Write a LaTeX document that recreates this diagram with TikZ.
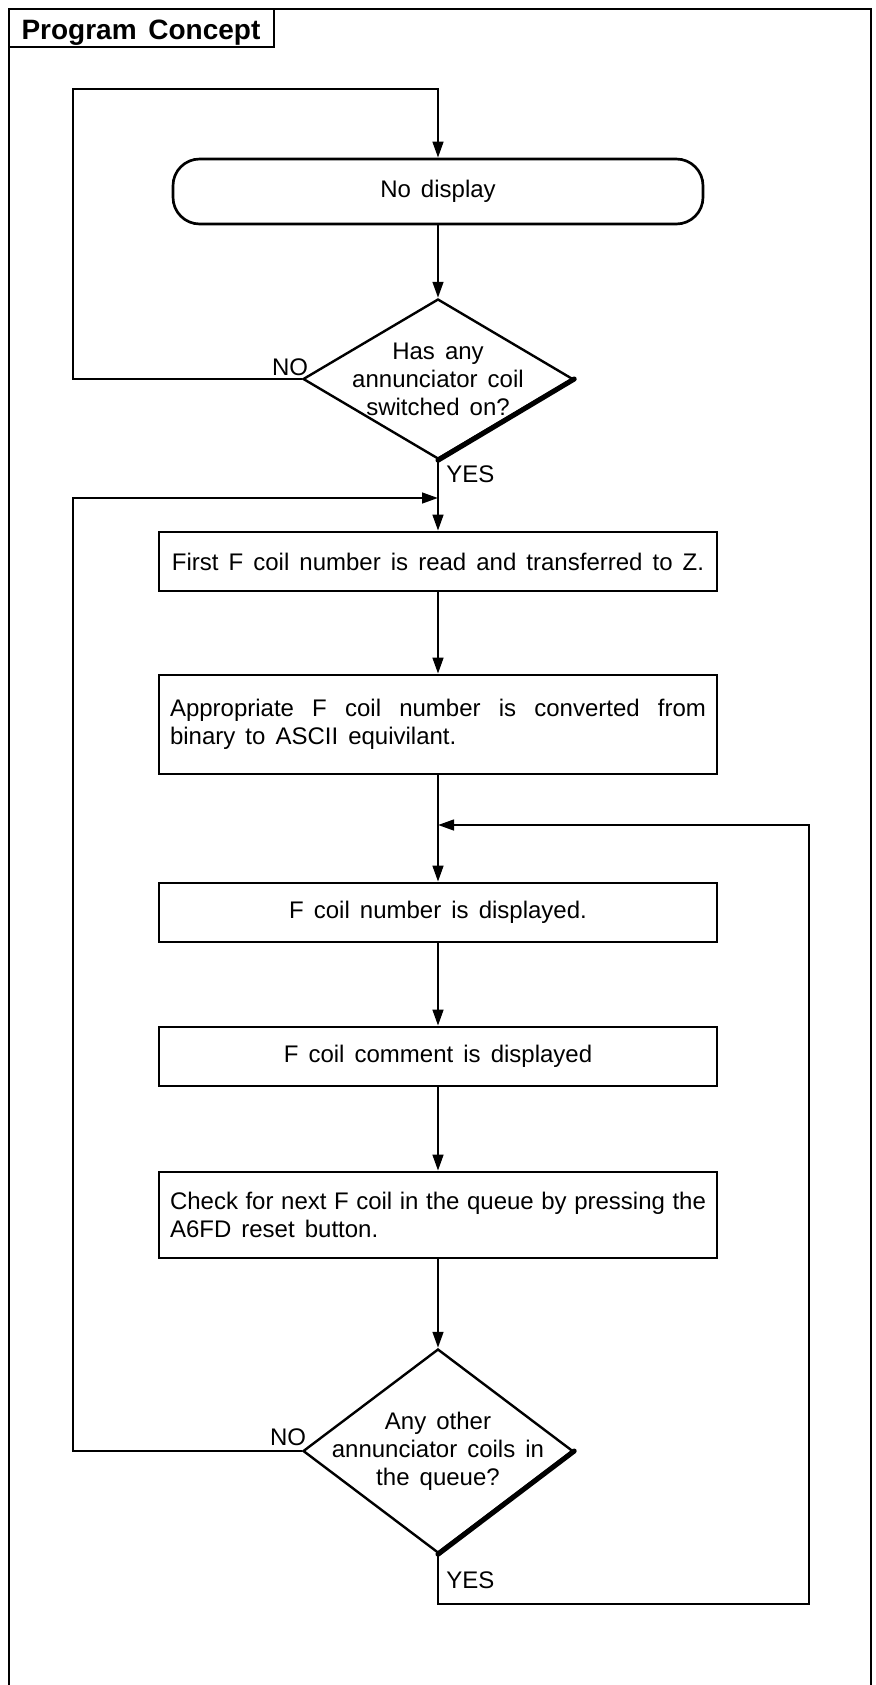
\documentclass[tikz,border=0pt]{standalone}
\usepackage{fontspec}
\setmainfont{Liberation Sans}
\usetikzlibrary{arrows.meta,shapes.geometric}
% wide, slightly shrinkable word spaces for the typeset labels
\newcommand{\widespaces}{\spaceskip=0.42em plus 0.4em minus 0.12em\relax}
\begin{document}
\begin{tikzpicture}[x=0.75pt,y=-0.75pt,
  every node/.style={font=\fontsize{18}{21}\selectfont\widespaces},
  frame/.style={line width=2.2pt},
  conn/.style={line width=1.8pt,-{Triangle[length=12pt,width=8pt]}},
  stepbox/.style={draw,line width=2pt,rectangle,minimum width=418.5pt,inner sep=8pt},
  termbox/.style={draw,line width=2pt,rectangle,rounded corners=20pt,minimum width=397.5pt,minimum height=48.75pt},
  decision/.style={draw,line width=1.8pt,diamond,inner sep=0pt,minimum width=202.5pt},
  tag/.style={inner sep=0pt}
]
\useasboundingbox (0,0) rectangle (875,1685);

% outer frame (open at the bottom) and title tab
\draw[frame] (9,1685) -- (9,9) -- (871,9) -- (871,1685);
\draw[line width=1.8pt] (9,9) rectangle (274,47);
\node[font=\fontsize{21}{24}\selectfont\bfseries\widespaces,anchor=base] (title) at (141,39) {Program Concept};

% flow elements
\node[termbox] (start) at (438,191.5) {No display};
\node[decision,minimum height=120pt] (d1) at (438,379) {};
\node[align=center] (d1t) at (d1) {Has any\\annunciator coil\\switched on?};
\node[stepbox,minimum height=44.25pt] (b2) at (438,561.5) {First F coil number is read and transferred to Z.};
\node[stepbox,minimum height=74.25pt,text width=402pt,align=justify] (b3) at (438,724.5)
  {Appropriate F coil number is converted from\linebreak binary to ASCII equivilant.};
\node[stepbox,minimum height=44.25pt] (b4) at (438,912.5) {F coil number is displayed.};
\node[stepbox,minimum height=44.25pt] (b5) at (438,1056.5) {F coil comment is displayed};
\node[stepbox,minimum height=64.5pt,text width=402pt,align=justify] (b6) at (438,1215)
  {Check for next F coil in the queue by pressing the\linebreak A6FD reset button.};
\node[decision,minimum height=153pt] (d2) at (438,1451) {};
\node[align=center] (d2t) at (d2) {Any other\\annunciator coils in\\the queue?};

% heavier lower-right edges of the decisions
\draw[line width=3.8pt,line cap=round] (d1.east) -- (d1.south);
\draw[line width=3.8pt,line cap=round] (d2.east) -- (d2.south);

% branch labels
\node[tag] (no1) at (290,367) {NO};
\node[tag,anchor=west] (yes1) at (446,474) {YES};
\node[tag] (no2) at (288,1437) {NO};
\node[tag,anchor=west] (yes2) at (446,1580) {YES};

% loop corners and merge points
\coordinate (topL) at (73,89);
\coordinate (loopL) at (73,498);
\coordinate (m1) at (438,498);
\coordinate (loopB) at (438,1604);
\coordinate (loopR) at (809,825);
\coordinate (m2) at (438,825);

% connectors
\draw[conn] (d1.west) -| (topL) -| (start.north);
\draw[conn] (start.south) -- (d1.north);
\draw[conn] (d1.south) -- (b2.north);
\draw[conn] (d2.west) -| (loopL) -- (m1);
\draw[conn] (b2.south) -- (b3.north);
\draw[conn] (b3.south) -- (b4.north);
\draw[conn] (d2.south) -- (loopB) -| (loopR) -- (m2);
\draw[conn] (b4.south) -- (b5.north);
\draw[conn] (b5.south) -- (b6.north);
\draw[conn] (b6.south) -- (d2.north);
\end{tikzpicture}
\end{document}
